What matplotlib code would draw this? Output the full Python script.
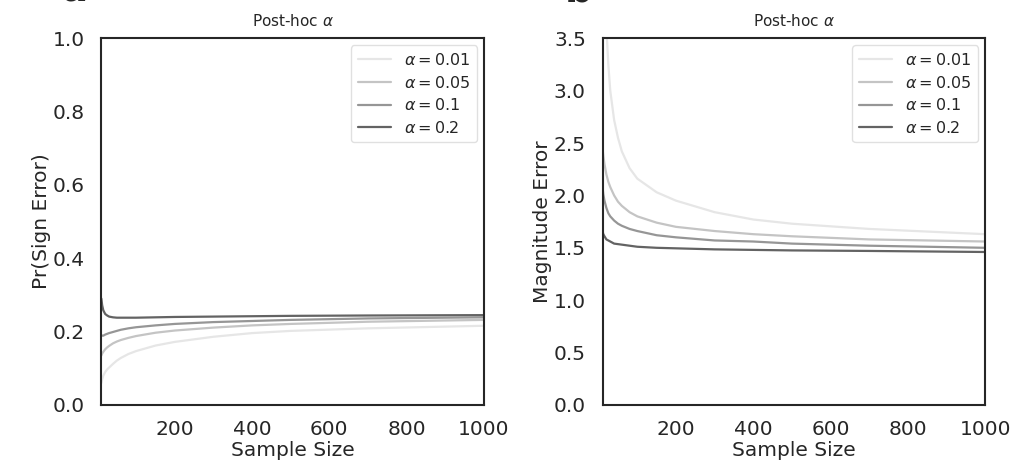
import numpy as np
import matplotlib
matplotlib.use("Agg")
import matplotlib.pyplot as plt
import seaborn as sns

# ============================================================
# DATA
# ============================================================

sample_size = [10, 12, 15, 20, 25, 30, 40, 50, 60, 80, 100, 150, 200, 300, 400, 500, 700, 1000]

alpha_labels = [r"$\alpha = 0.01$", r"$\alpha = 0.05$", r"$\alpha = 0.1$", r"$\alpha = 0.2$"]

sign_a001 = [0.060, 0.070, 0.080, 0.090, 0.097, 0.102, 0.112, 0.121, 0.128, 0.139, 0.147, 0.162, 0.172, 0.186, 0.196, 0.202, 0.209, 0.216]
sign_a005 = [0.135, 0.140, 0.145, 0.152, 0.157, 0.161, 0.168, 0.173, 0.177, 0.183, 0.188, 0.197, 0.203, 0.211, 0.217, 0.221, 0.227, 0.232]
sign_a01 = [0.190, 0.189, 0.189, 0.192, 0.194, 0.196, 0.199, 0.202, 0.205, 0.209, 0.212, 0.217, 0.221, 0.226, 0.229, 0.232, 0.236, 0.239]
sign_a02 = [0.290, 0.272, 0.258, 0.248, 0.244, 0.241, 0.239, 0.238, 0.238, 0.238, 0.238, 0.239, 0.240, 0.241, 0.242, 0.243, 0.244, 0.245]

mag_a001 = [5.20, 4.70, 4.20, 3.60, 3.25, 3.00, 2.72, 2.55, 2.42, 2.26, 2.16, 2.03, 1.95, 1.84, 1.77, 1.73, 1.68, 1.63]
mag_a005 = [2.45, 2.38, 2.30, 2.20, 2.13, 2.08, 2.00, 1.94, 1.90, 1.84, 1.80, 1.74, 1.70, 1.66, 1.63, 1.61, 1.58, 1.56]
mag_a01 = [2.08, 2.01, 1.95, 1.88, 1.83, 1.80, 1.76, 1.73, 1.71, 1.68, 1.66, 1.62, 1.60, 1.57, 1.56, 1.54, 1.52, 1.50]
mag_a02 = [1.66, 1.63, 1.61, 1.58, 1.57, 1.56, 1.54, 1.535, 1.53, 1.52, 1.51, 1.50, 1.495, 1.485, 1.48, 1.475, 1.47, 1.46]

sign_series = [sign_a001, sign_a005, sign_a01, sign_a02]
mag_series = [mag_a001, mag_a005, mag_a01, mag_a02]

grays = ["#e6e6e6", "#c4c4c4", "#969696", "#636363"]

# ============================================================
# PLOT
# ============================================================

sns.set_style("white")
plt.rcParams["font.family"] = ["DejaVu Sans"]

fig, axes = plt.subplots(1, 2, figsize=(10.24, 4.72), dpi=100)
fig.subplots_adjust(left=0.099, right=0.962, bottom=0.142, top=0.919, wspace=0.31)

panels = [
    (axes[0], sign_series, "Pr(Sign Error)", (0, 1.0), np.arange(0, 1.01, 0.2)),
    (axes[1], mag_series, "Magnitude Error", (0, 3.5), np.arange(0, 3.51, 0.5)),
]

for ax, series, ylabel, ylim, yticks in panels:
    for vals, lab, col in zip(series, alpha_labels, grays):
        ax.plot(sample_size, vals, color=col, linewidth=1.6, label=lab)

    ax.set_xlim(10, 1000)
    ax.set_ylim(*ylim)
    ax.set_xticks([200, 400, 600, 800, 1000])
    ax.set_yticks(yticks)
    ax.set_yticklabels([f"{v:.1f}" for v in yticks])
    ax.tick_params(axis="both", labelsize=14.5, length=0, colors="#262626")
    ax.tick_params(axis="x", pad=11)
    ax.tick_params(axis="y", pad=12)
    ax.set_xlabel("Sample Size", fontsize=14.5, color="#262626", labelpad=1)
    ax.set_ylabel(ylabel, fontsize=14.5, color="#262626", labelpad=1.5)
    ax.set_title(r"Post-hoc $\alpha$", fontsize=11, color="#262626", pad=9)

    for s in ax.spines.values():
        s.set_color("#262626")
        s.set_linewidth(1.5)

    leg = ax.legend(loc="upper right", fontsize=11.5, frameon=True,
                    handlelength=2.1, borderpad=0.4, labelspacing=0.42,
                    borderaxespad=0.45)
    leg.get_frame().set_edgecolor("#d9d9d9")

# panel letters, mostly cut off at the top edge
fig.text(0.073, 1.0 - 1.5 / 472, "a", fontsize=28, fontweight="bold", va="baseline", ha="center")
fig.text(0.565, 1.0 - 1.5 / 472, "b", fontsize=28, fontweight="bold", va="baseline", ha="center")

fig.savefig("out.png", dpi=100)
